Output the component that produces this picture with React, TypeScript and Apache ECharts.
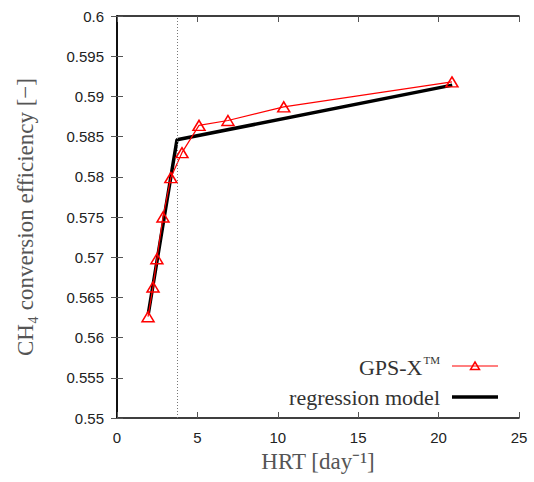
import React, { useEffect, useRef } from "react";
import * as echarts from "echarts";

const hrt = [1.93, 2.24, 2.48, 2.86, 3.35, 4.04, 5.1, 6.9, 10.37, 20.83];
const gpsx = [0.5626, 0.5663, 0.5698, 0.575, 0.5799, 0.583, 0.5864, 0.587, 0.5887, 0.5918];
const regX = [1.95, 3.73, 20.85];
const regY = [0.563, 0.5846, 0.5914];
const breakX = 3.73;
const yTicks = [0.55, 0.555, 0.56, 0.565, 0.57, 0.575, 0.58, 0.585, 0.59, 0.595, 0.6];
const legendNames = ["GPS-X", "regression model"];

export default function App() {
  const ref = useRef<HTMLDivElement>(null);
  useEffect(() => {
    const chart = echarts.init(ref.current!, null, { renderer: "svg" });
    const serif = "Liberation Serif";
    const sans = "Liberation Sans";
    const tickStyle = { show: true, inside: true, length: 6, lineStyle: { color: "#555", width: 1 } };
    const legTextX = 440;
    const legY1 = 366;
    const legY2 = 397;
    chart.setOption({
      animation: false,
      backgroundColor: "#fff",
      grid: { left: 117, right: 15, top: 16, bottom: 64 },
      graphic: [
        {
          type: "text",
          x: legTextX,
          y: legY1,
          style: {
            text: "{a|" + legendNames[0] + "}{s|TM}",
            align: "right",
            verticalAlign: "middle",
            rich: {
              a: { fontFamily: serif, fontSize: 22, fill: "#333", lineHeight: 24, verticalAlign: "bottom" },
              s: { fontFamily: serif, fontSize: 11, fill: "#333", lineHeight: 24, verticalAlign: "top", padding: [0, 0, 0, 1] },
            },
          },
        },
        {
          type: "line",
          shape: { x1: 452, y1: legY1, x2: 498, y2: legY1 },
          style: { stroke: "#f00", lineWidth: 1.2 },
        },
        {
          type: "polygon",
          shape: { points: [[475, legY1 - 4], [479.5, legY1 + 3.5], [470.5, legY1 + 3.5]] },
          style: { fill: "none", stroke: "#f00", lineWidth: 1.5 },
        },
        {
          type: "text",
          x: legTextX,
          y: legY2,
          style: {
            text: legendNames[1],
            align: "right",
            verticalAlign: "middle",
            fontFamily: serif,
            fontSize: 22,
            fill: "#333",
          },
        },
        {
          type: "line",
          shape: { x1: 452, y1: legY2, x2: 498, y2: legY2 },
          style: { stroke: "#000", lineWidth: 3.5 },
        },
      ],
      xAxis: [
        {
          type: "value",
          min: 0,
          max: 25,
          interval: 5,
          axisLine: { show: true, lineStyle: { color: "#000", width: 1.5 } },
          axisTick: tickStyle,
          splitLine: { show: false },
          axisLabel: { fontFamily: sans, fontSize: 15, color: "#222", margin: 12 },
          name: "HRT [day⁻¹]",
          nameLocation: "middle",
          nameGap: 32,
          nameTextStyle: { fontFamily: serif, fontSize: 23, color: "#555" },
        },
        {
          type: "value",
          position: "top",
          min: 0,
          max: 25,
          interval: 5,
          axisLine: { show: true, lineStyle: { color: "#000", width: 1.5 } },
          axisTick: tickStyle,
          splitLine: { show: false },
          axisLabel: { show: false },
        },
      ],
      yAxis: [
        {
          type: "value",
          min: 0.55,
          max: 0.6,
          interval: 0.005,
          axisLine: { show: true, lineStyle: { color: "#000", width: 1.5 } },
          axisTick: tickStyle,
          splitLine: { show: false },
          axisLabel: {
            fontFamily: sans,
            fontSize: 15,
            color: "#222",
            margin: 13,
            formatter: (v: number) => {
              const t = yTicks.find((x) => Math.abs(x - v) < 1e-9);
              return String(parseFloat((t ?? v).toFixed(3)));
            },
          },
          name: "CH₄ conversion efficiency [−]",
          nameLocation: "middle",
          nameGap: 80,
          nameTextStyle: { fontFamily: serif, fontSize: 23, color: "#555" },
        },
        {
          type: "value",
          position: "right",
          min: 0.55,
          max: 0.6,
          interval: 0.005,
          axisLine: { show: true, lineStyle: { color: "#000", width: 1.5 } },
          axisTick: tickStyle,
          splitLine: { show: false },
          axisLabel: { show: false },
        },
      ],
      series: [
        {
          name: legendNames[1],
          type: "line",
          data: regX.map((x, i) => [x, regY[i]]),
          showSymbol: false,
          symbol: "none",
          lineStyle: { color: "#000", width: 3.5 },
          itemStyle: { color: "#000" },
          z: 2,
          markLine: {
            silent: true,
            symbol: "none",
            label: { show: false },
            lineStyle: { color: "#777", type: [1, 2], width: 1 },
            data: [{ xAxis: breakX }],
          },
        },
        {
          name: legendNames[0] + "™",
          type: "line",
          data: hrt.map((x, i) => [x, gpsx[i]]),
          symbol: "triangle",
          symbolSize: [12, 10],
          lineStyle: { color: "#f00", width: 1.2 },
          itemStyle: { color: "transparent", borderColor: "#f00", borderWidth: 1.5 },
          z: 3,
        },
      ],
    });
    return () => chart.dispose();
  }, []);
  return (
    <div
      ref={ref}
      style={{ position: "absolute", left: 0, top: 0, width: 534, height: 482 }}
    />
  );
}
